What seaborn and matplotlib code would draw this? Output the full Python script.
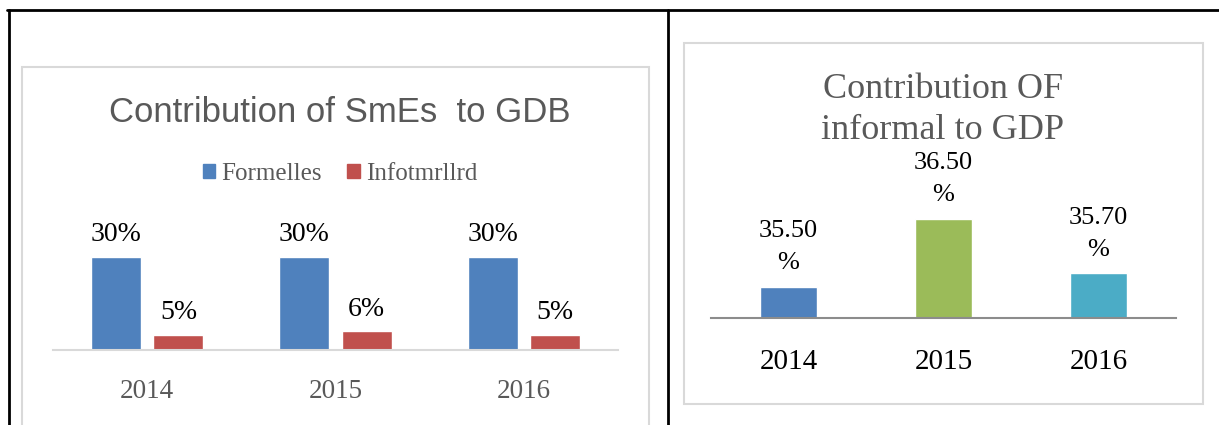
import numpy as np
import pandas as pd
import matplotlib
matplotlib.use("Agg")
import matplotlib.pyplot as plt
from matplotlib.lines import Line2D
from matplotlib.patches import Rectangle, Patch
import seaborn as sns

sns.set_theme(style="white")
plt.rcParams['font.family'] = ['Liberation Serif', 'DejaVu Serif']

# data
years = ['2014', '2015', '2016']
formelles = [30, 30, 30]
informelles = [5, 6, 5]
sme_series = ['Formelles', 'Infotmrllrd']
informal_gdp = [35.50, 36.50, 35.70]

sme_colors = ['#4F81BD', '#C0504D']
gdp_colors = ['#4F81BD', '#9BBB59', '#4BACC6']
W, H = 1219, 425


def px_axes(fig, x0, x1, y_top, y_bottom):
    # pixel box -> figure fraction
    return fig.add_axes([x0 / W, 1 - y_bottom / H, (x1 - x0) / W, (y_bottom - y_top) / H])


fig = plt.figure(figsize=(W / 100, H / 100), dpi=100)
fig.patch.set_facecolor('white')

# table borders
for xs, ys in [((7, 1219), (10, 10)), ((9, 9), (10, 425)), ((668, 668), (10, 425))]:
    fig.add_artist(Line2D([x / W for x in xs], [1 - y / H for y in ys],
                          color='black', lw=2, transform=fig.transFigure))

# chart frames
fig.add_artist(Rectangle((22 / W, 1 - 440 / H), (649 - 22) / W, (440 - 67) / H,
                         transform=fig.transFigure, fill=False, ec='#D9D9D9', lw=1.5))
fig.add_artist(Rectangle((684 / W, 1 - 404 / H), (1203 - 684) / W, (404 - 43) / H,
                         transform=fig.transFigure, fill=False, ec='#D9D9D9', lw=1.5))

# ---------- left chart ----------
df_sme = pd.DataFrame({
    'year': years * 2,
    'value': formelles + informelles,
    'series': [sme_series[0]] * 3 + [sme_series[1]] * 3,
})
ax1 = px_axes(fig, 53, 618, 200, 350)
sns.barplot(data=df_sme, x='year', y='value', hue='series', palette=sme_colors,
            width=0.664, gap=0.2, saturation=1, ax=ax1)
ax1.set_ylim(0, 150 / 3.1)
ax1.set_xlim(-0.5, 2.5)
for cont in ax1.containers:
    ax1.bar_label(cont, labels=[f'{v:.0f}%' for v in cont.datavalues],
                  padding=7, fontsize=20, color='black')
ax1.get_legend().remove()
for s in ['top', 'left', 'right']:
    ax1.spines[s].set_visible(False)
ax1.spines['bottom'].set_color('#D9D9D9')
ax1.spines['bottom'].set_linewidth(1.5)
ax1.set_yticks([])
ax1.set_xlabel('')
ax1.set_ylabel('')
ax1.tick_params(axis='x', length=0, pad=21, labelsize=19.5, labelcolor='#595959')
ax1.patch.set_alpha(0)

fig.text(340 / W, 1 - 112 / H, 'Contribution of SmEs  to GDB', ha='center', va='center',
         fontsize=25, color='#595959', family=['Liberation Sans'])
handles = [Patch(color=c) for c in sme_colors]
fig.legend(handles, sme_series, loc='center', bbox_to_anchor=(340 / W, 1 - 174 / H),
           ncol=2, frameon=False, fontsize=18, labelcolor='#595959',
           handlelength=0.5, handleheight=0.5, handletextpad=0.25, columnspacing=1.0)

# ---------- right chart ----------
ax2 = px_axes(fig, 711, 1176, 150, 318)
sns.barplot(x=years, y=informal_gdp, hue=years, palette=gdp_colors, width=0.37,
            saturation=1, legend=False, ax=ax2)
ax2.set_ylim(35.044, 35.044 + 168 / 68)
ax2.set_xlim(-0.5, 2.5)
for cont in ax2.containers:
    ax2.bar_label(cont, labels=[f'{v:.2f}\n%' for v in cont.datavalues],
                  padding=9, fontsize=19, color='black', linespacing=1.6)
for s in ['top', 'left', 'right']:
    ax2.spines[s].set_visible(False)
ax2.spines['bottom'].set_color('#8C8C8C')
ax2.spines['bottom'].set_linewidth(1.5)
ax2.set_yticks([])
ax2.tick_params(axis='x', length=0, pad=22, labelsize=21, labelcolor='black')
ax2.patch.set_alpha(0)

fig.text(943 / W, 1 - 110 / H, 'Contribution OF\ninformal to GDP', ha='center', va='center',
         fontsize=26, color='#595959', linespacing=1.35)

fig.savefig('out.png', dpi=100)
